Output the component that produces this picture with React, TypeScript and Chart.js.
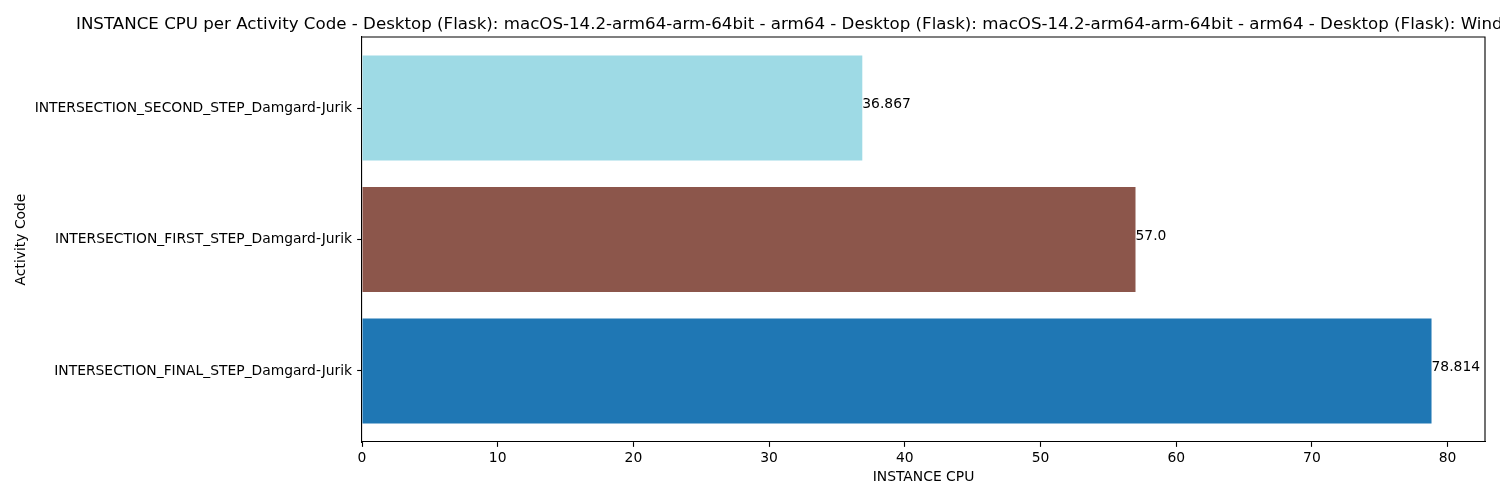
import React, { useEffect, useRef } from "react";
import { Chart, registerables } from "chart.js";

Chart.register(...registerables);

const categories = [
  "INTERSECTION_FINAL_STEP_Damgard-Jurik",
  "INTERSECTION_FIRST_STEP_Damgard-Jurik",
  "INTERSECTION_SECOND_STEP_Damgard-Jurik",
];
const values = [78.814, 57.0, 36.867];
const valueLabels = ["78.814", "57.0", "36.867"];
const barColors = ["#1f77b4", "#8c564b", "#9edae5"];
const xTicks = [0, 10, 20, 30, 40, 50, 60, 70, 80];
const titleText =
  "INSTANCE CPU per Activity Code - Desktop (Flask): macOS-14.2-arm64-arm-64bit - arm64 - Desktop (Flask): macOS-14.2-arm64-arm-64bit - arm64 - Desktop (Flask): Windows";
const xLabel = "INSTANCE CPU";
const yLabel = "Activity Code";

const FONT = "DejaVu Sans";
const FS = 13.89;

export default function App() {
  const ref = useRef<HTMLCanvasElement | null>(null);

  useEffect(() => {
    document.body.style.margin = "0";
    const canvas = ref.current!;
    const maxX = Math.max(...values) * 1.05;
    const pad = 0.4 + 2.8 * 0.05;

    const textPlugin = {
      id: "mplText",
      afterDraw(chart: any) {
        const { ctx, chartArea } = chart;
        const xs = chart.scales.x;
        const ys = chart.scales.y;
        ctx.save();
        ctx.strokeStyle = "#000";
        ctx.lineWidth = 1.11;
        ctx.beginPath();
        ctx.moveTo(chartArea.left, chartArea.top);
        ctx.lineTo(chartArea.right, chartArea.top);
        ctx.lineTo(chartArea.right, chartArea.bottom);
        ctx.stroke();

        ctx.fillStyle = "#000";
        ctx.font = `${FS}px '${FONT}'`;
        ctx.textAlign = "left";
        ctx.textBaseline = "alphabetic";
        values.forEach((v, i) => {
          ctx.fillText(valueLabels[i], xs.getPixelForValue(v), ys.getPixelForValue(i));
        });

        ctx.textAlign = "center";
        ctx.textBaseline = "middle";
        ctx.fillText(xLabel, (chartArea.left + chartArea.right) / 2, 477);

        ctx.save();
        ctx.translate(21, (chartArea.top + chartArea.bottom) / 2);
        ctx.rotate(-Math.PI / 2);
        ctx.fillText(yLabel, 0, 0);
        ctx.restore();

        ctx.font = `16.67px '${FONT}'`;
        ctx.textAlign = "left";
        ctx.textBaseline = "alphabetic";
        ctx.fillText(titleText, 76, 29);
        ctx.restore();
      },
    };

    const chart = new Chart(canvas, {
      type: "bar",
      data: {
        datasets: [
          {
            data: values.map((v, i) => ({ x: v, y: i })),
            backgroundColor: barColors,
            borderWidth: 0,
            categoryPercentage: 1,
            barPercentage: 0.8,
          },
        ],
      },
      options: {
        indexAxis: "y",
        responsive: false,
        animation: false,
        devicePixelRatio: 1,
        layout: { padding: { top: 37, right: 15, left: 0, bottom: 0 } },
        plugins: {
          legend: { display: false },
          tooltip: { enabled: false },
          title: { display: false },
        },
        scales: {
          x: {
            type: "linear",
            min: 0,
            max: maxX,
            offset: false,
            afterBuildTicks: (axis: any) => {
              axis.ticks = xTicks.map((v) => ({ value: v }));
            },
            afterFit: (scale: any) => {
              scale.height = 58;
            },
            grid: {
              drawOnChartArea: false,
              offset: false,
              tickLength: 4.86,
              tickColor: "#000",
              tickWidth: 1.11,
            },
            border: { color: "#000", width: 1.11 },
            ticks: {
              color: "#000",
              font: { family: FONT, size: FS },
              padding: 3,
              maxRotation: 0,
              callback: (v: any) => String(v),
            },
          },
          y: {
            type: "linear",
            min: -pad,
            max: 2 + pad,
            offset: false,
            afterBuildTicks: (axis: any) => {
              axis.ticks = categories.map((_, i) => ({ value: i }));
            },
            afterFit: (scale: any) => {
              scale.width = 362;
            },
            grid: {
              drawOnChartArea: false,
              offset: false,
              tickLength: 4.86,
              tickColor: "#000",
              tickWidth: 1.11,
            },
            border: { color: "#000", width: 1.11 },
            ticks: {
              color: "#000",
              font: { family: FONT, size: FS },
              padding: 5,
              callback: (v: any) => categories[Math.round(Number(v))] ?? "",
            },
          },
        },
      },
      plugins: [textPlugin],
    } as any);

    return () => chart.destroy();
  }, []);

  return (
    <div style={{ position: "absolute", left: 0, top: 0, width: 1500, height: 500, background: "#fff" }}>
      <canvas ref={ref} width={1500} height={500} />
    </div>
  );
}
